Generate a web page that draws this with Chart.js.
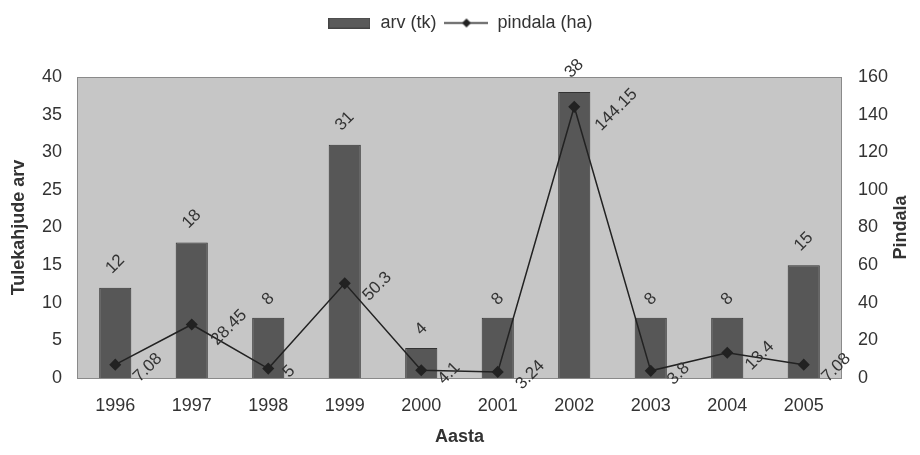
<!DOCTYPE html>
<html>
<head>
<meta charset="utf-8">
<script src="https://cdn.jsdelivr.net/npm/chart.js@4.4.1/dist/chart.umd.min.js"></script>
<style>
  html, body { margin: 0; padding: 0; background: #fff; }
  #wrap { width: 920px; height: 455px; }
</style>
</head>
<body>
<div id="wrap"><canvas id="chart" width="920" height="455"></canvas></div>
<script>
// data
const years = ['1996', '1997', '1998', '1999', '2000', '2001', '2002', '2003', '2004', '2005'];
const arvValues = [12, 18, 8, 31, 4, 8, 38, 8, 8, 15];
const pindalaValues = [7.08, 28.45, 5, 50.3, 4.1, 3.24, 144.15, 3.8, 13.4, 7.08];
const arvTicks = [0, 5, 10, 15, 20, 25, 30, 35, 40];
const pindalaTicks = [0, 20, 40, 60, 80, 100, 120, 140, 160];

const TEXT = '#333333';
const FONT = "'Liberation Sans', Arial, sans-serif";

// legend swatches
function barSwatch() {
    const c = document.createElement('canvas');
    c.width = 42; c.height = 11;
    const g = c.getContext('2d');
    g.fillStyle = '#5a5a5a';
    g.fillRect(0, 0, 42, 11);
    g.strokeStyle = '#444';
    g.strokeRect(0.5, 0.5, 41, 10);
    return c;
}
function lineSwatch() {
    const c = document.createElement('canvas');
    c.width = 44; c.height = 11;
    const g = c.getContext('2d');
    g.strokeStyle = '#222';
    g.lineWidth = 1.5;
    g.beginPath(); g.moveTo(0, 5.5); g.lineTo(44, 5.5); g.stroke();
    g.fillStyle = '#222';
    g.beginPath();
    g.moveTo(22, 1); g.lineTo(26.5, 5.5); g.lineTo(22, 10); g.lineTo(17.5, 5.5);
    g.closePath(); g.fill();
    return c;
}

// leave room between legend and plot
const legendGap = {
    id: 'legendGap',
    beforeLayout(chart) {
        const lg = chart.legend;
        if (lg && !lg._gapPatched) {
            const origFit = lg.fit;
            lg.fit = function () {
                origFit.call(this);
                this.height += 35;
            };
            lg._gapPatched = true;
        }
    }
};

const plotBackground = {
    id: 'plotBackground',
    beforeDraw(chart) {
        const { ctx, chartArea: a } = chart;
        ctx.save();
        ctx.fillStyle = '#c6c6c6';
        ctx.fillRect(a.left, a.top, a.right - a.left, a.bottom - a.top);
        ctx.strokeStyle = '#8a8a8a';
        ctx.lineWidth = 1;
        ctx.strokeRect(a.left + 0.5, a.top + 0.5, a.right - a.left - 1, a.bottom - a.top);
        ctx.restore();
    }
};

// rotated value labels and the right axis title
const valueLabels = {
    id: 'valueLabels',
    afterDatasetsDraw(chart) {
        const ctx = chart.ctx;
        ctx.save();
        ctx.font = '17px ' + FONT;
        ctx.fillStyle = TEXT;
        ctx.textAlign = 'center';
        ctx.textBaseline = 'middle';
        const drawRot = (txt, x, y) => {
            ctx.save();
            ctx.translate(x, y);
            ctx.rotate(-Math.PI / 4);
            ctx.fillText(txt, 0, 0);
            ctx.restore();
        };
        chart.getDatasetMeta(0).data.forEach((el, i) => {
            const txt = String(arvValues[i]);
            const w = ctx.measureText(txt).width;
            drawRot(txt, el.x, el.y - 14 - w / 2);
        });
        chart.getDatasetMeta(1).data.forEach((el, i) => {
            const txt = String(pindalaValues[i]);
            const w = ctx.measureText(txt).width;
            drawRot(txt, el.x + 16 + w / 2, el.y + 3);
        });
        ctx.restore();

        ctx.save();
        ctx.font = 'bold 18px ' + FONT;
        ctx.fillStyle = TEXT;
        ctx.textAlign = 'center';
        ctx.textBaseline = 'middle';
        const a = chart.chartArea;
        ctx.translate(901, (a.top + a.bottom) / 2);
        ctx.rotate(-Math.PI / 2);
        ctx.fillText('Pindala', 0, 0);
        ctx.restore();
    }
};

new Chart(document.getElementById('chart'), {
    type: 'bar',
    data: {
        labels: years,
        datasets: [{
            type: 'bar',
            label: 'arv (tk)',
            data: arvValues,
            yAxisID: 'y',
            backgroundColor: '#575757',
            borderColor: '#333333',
            borderWidth: 1,
            categoryPercentage: 1,
            barPercentage: 0.42,
            order: 2
        }, {
            type: 'line',
            label: 'pindala (ha)',
            data: pindalaValues,
            yAxisID: 'y1',
            borderColor: '#222222',
            borderWidth: 1.5,
            pointStyle: 'rectRot',
            pointRadius: 5,
            pointBackgroundColor: '#222222',
            pointBorderColor: '#222222',
            tension: 0,
            order: 1
        }]
    },
    options: {
        responsive: false,
        animation: false,
        layout: { padding: { top: 6, left: 0, right: 0, bottom: 0 } },
        plugins: {
            legend: {
                display: true,
                position: 'top',
                labels: {
                    usePointStyle: true,
                    pointStyleWidth: 44,
                    color: TEXT,
                    font: { size: 18, family: FONT },
                    padding: 8,
                    generateLabels(chart) {
                        return chart.data.datasets.map((ds, i) => ({
                            text: ds.label,
                            pointStyle: i === 0 ? barSwatch() : lineSwatch(),
                            fillStyle: 'transparent',
                            strokeStyle: 'transparent',
                            lineWidth: 0,
                            fontColor: TEXT,
                            datasetIndex: i
                        }));
                    }
                }
            },
            tooltip: { enabled: false }
        },
        scales: {
            x: {
                grid: { display: false, drawTicks: false },
                border: { display: false },
                ticks: {
                    color: TEXT,
                    padding: 17,
                    font: { size: 18, family: FONT }
                },
                title: {
                    display: true,
                    text: 'Aasta',
                    color: TEXT,
                    font: { size: 18, weight: 'bold', family: FONT },
                    padding: { top: 0, bottom: 7 }
                },
                afterFit(scale) { scale.height = 77; }
            },
            y: {
                position: 'left',
                min: 0,
                max: 40,
                afterBuildTicks(scale) { scale.ticks = arvTicks.map(v => ({ value: v })); },
                grid: { display: false, drawTicks: false },
                border: { display: false },
                ticks: {
                    color: TEXT,
                    padding: 15,
                    font: { size: 18, family: FONT }
                },
                title: {
                    display: true,
                    text: 'Tulekahjude arv',
                    color: TEXT,
                    font: { size: 18, weight: 'bold', family: FONT },
                    padding: { top: 8, bottom: 0 }
                },
                afterFit(scale) { scale.width = 77; }
            },
            y1: {
                position: 'right',
                min: 0,
                max: 160,
                afterBuildTicks(scale) { scale.ticks = pindalaTicks.map(v => ({ value: v })); },
                grid: { display: false, drawTicks: false },
                border: { display: false },
                ticks: {
                    color: TEXT,
                    padding: 16,
                    font: { size: 18, family: FONT }
                },
                afterFit(scale) { scale.width = 78; }
            }
        }
    },
    plugins: [legendGap, plotBackground, valueLabels]
});
</script>
</body>
</html>
